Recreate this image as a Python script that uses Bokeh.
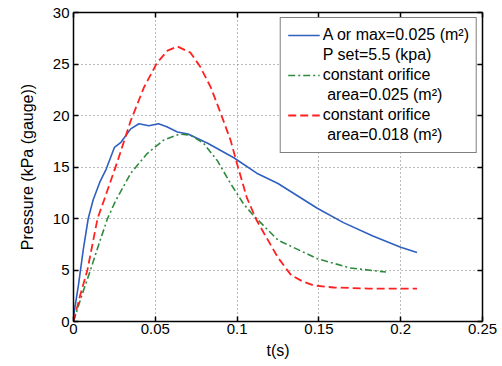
from bokeh.plotting import figure
from bokeh.models import LinearAxis, FixedTicker, Legend, LegendItem, Range1d
from bokeh.embed import file_html
from bokeh.resources import INLINE

# Data
t_blue = [0, 0.003, 0.006, 0.009, 0.012, 0.016, 0.020, 0.025, 0.029, 0.035, 0.040, 0.046,
          0.052, 0.057, 0.0635, 0.070, 0.082, 0.098, 0.112, 0.125, 0.133, 0.149, 0.165,
          0.183, 0.200, 0.210]
p_blue = [0.5, 3.5, 7.0, 10.0, 11.8, 13.5, 14.8, 16.9, 17.4, 18.7, 19.2, 19.0,
          19.2, 18.9, 18.4, 18.2, 17.3, 15.9, 14.4, 13.4, 12.6, 11.0, 9.6,
          8.3, 7.2, 6.7]

t_green = [0, 0.005, 0.0104, 0.0155, 0.0208, 0.0257, 0.035, 0.045, 0.055, 0.065, 0.0715,
           0.0795, 0.088, 0.096, 0.104, 0.110, 0.125, 0.149, 0.169, 0.191]
p_green = [0, 2.5, 5.0, 7.5, 10.0, 11.7, 14.4, 16.3, 17.6, 18.2, 18.1,
           17.3, 15.6, 13.4, 11.4, 10.3, 7.9, 6.1, 5.2, 4.8]

t_red = [0, 0.004, 0.0085, 0.0147, 0.0185, 0.027, 0.035, 0.043, 0.051, 0.0575, 0.0635,
         0.0715, 0.0776, 0.084, 0.090, 0.096, 0.100, 0.106, 0.112, 0.125, 0.133, 0.140,
         0.147, 0.159, 0.180, 0.210]
p_red = [0, 2.5, 5.0, 10.0, 11.7, 15.6, 19.5, 22.7, 25.1, 26.3, 26.7,
         26.1, 24.7, 22.7, 20.2, 17.6, 15.3, 12.0, 9.8, 6.2, 4.5, 3.9,
         3.5, 3.3, 3.2, 3.2]

x_ticks = [0, 0.05, 0.1, 0.15, 0.2, 0.25]
x_labels = ["0", "0.05", "0.1", "0.15", "0.2", "0.25"]
y_ticks = [0, 5, 10, 15, 20, 25, 30]

legend_lines = [["A or max=0.025 (m²)", "P set=5.5 (kpa)"],
                ["constant orifice", " area=0.025 (m²)"],
                ["constant orifice", " area=0.018 (m²)"]]

FONT = "Liberation Sans"

p = figure(width=500, height=364, output_backend="svg", toolbar_location=None,
           x_range=Range1d(0, 0.25), y_range=Range1d(0, 30),
           min_border_left=73, min_border_right=18, min_border_top=12, min_border_bottom=43)
p.xaxis.visible = False
p.yaxis.visible = False
p.outline_line_color = None

xa = LinearAxis(ticker=FixedTicker(ticks=x_ticks), axis_label="t(s)")
xa.major_label_overrides = {x: l for x, l in zip(x_ticks, x_labels)}
ya = LinearAxis(ticker=FixedTicker(ticks=y_ticks), axis_label="Pressure (kPa (gauge))")
xt = LinearAxis(ticker=FixedTicker(ticks=x_ticks))
yr = LinearAxis(ticker=FixedTicker(ticks=y_ticks))
for ax in (xa, ya, xt, yr):
    ax.axis_line_color = "black"
    ax.axis_line_width = 1.5
    ax.major_tick_in = 5
    ax.major_tick_out = 0
    ax.major_tick_line_color = "black"
    ax.major_tick_line_width = 1.5
    ax.minor_tick_line_color = None
    ax.major_label_text_font = FONT
    ax.major_label_text_font_size = "15px"
    ax.major_label_text_color = "black"
    ax.axis_label_text_font = FONT
    ax.axis_label_text_font_size = "16px"
    ax.axis_label_text_font_style = "normal"
    ax.axis_label_text_color = "black"
xa.major_label_standoff = 2
xa.axis_label_standoff = 5
ya.major_label_standoff = 4
ya.axis_label_standoff = 14
xt.major_label_overrides = {x: "" for x in x_ticks}
yr.major_label_overrides = {y: "" for y in y_ticks}
for ax in (xt, yr):
    ax.major_label_standoff = 0
p.add_layout(xa, "below")
p.add_layout(ya, "left")
p.add_layout(xt, "above")
p.add_layout(yr, "right")

p.xgrid.ticker = FixedTicker(ticks=x_ticks)
p.ygrid.ticker = FixedTicker(ticks=y_ticks)
for g in (p.xgrid, p.ygrid):
    g.grid_line_color = "#777777"
    g.grid_line_dash = "1 3"
    g.grid_line_width = 1

r1 = p.line(t_blue, p_blue, line_color="#2f5fbf", line_width=1.6)
r2 = p.line(t_green, p_green, line_color="#2e8b3e", line_width=1.6, line_dash="7 3 2 3")
r3 = p.line(t_red, p_red, line_color="#ff2020", line_width=1.8, line_dash="8 4")
blank = p.line([], [], line_alpha=0)

items = []
for r, lines in zip([r1, r2, r3], legend_lines):
    items.append(LegendItem(label=lines[0], renderers=[r]))
    items.append(LegendItem(label=lines[1], renderers=[blank]))

legend = Legend(items=items,
                location="top_right", margin=5, padding=7, spacing=0,
                glyph_width=32, glyph_height=20, label_height=20, label_standoff=3,
                label_text_font=FONT, label_text_font_size="16px",
                label_text_color="black",
                border_line_color="black", border_line_width=1.5,
                background_fill_alpha=1)
p.add_layout(legend, "center")

open("out.html", "w").write(file_html(p, INLINE))
